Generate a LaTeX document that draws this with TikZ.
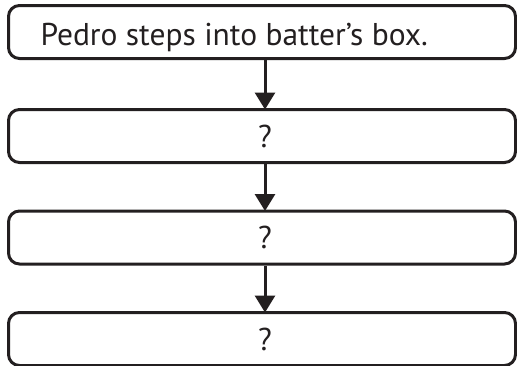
\documentclass[tikz,border=0pt]{standalone}
\usepackage{fontspec}
\setmainfont{PT Sans}
\usetikzlibrary{arrows.meta}
\definecolor{ink}{HTML}{231F20}
\begin{document}
\begin{tikzpicture}[x=1pt,y=-1pt,
  stepbox/.style={draw=ink, line width=3pt, rounded corners=11pt,
    minimum width=507pt, minimum height=53pt, inner sep=0pt},
  label/.style={text=ink, font=\fontsize{31.5}{34}\selectfont},
  flow/.style={draw=ink, line width=3pt,
    -{Triangle[length=17pt,width=20pt]}, shorten >=-1.5pt}]
  \useasboundingbox (0,0) rectangle (517,365);
  \node[stepbox] (s1) at (262,32) {};
  \node[stepbox] (s2) at (262,136) {};
  \node[stepbox] (s3) at (262,237.5) {};
  \node[stepbox] (s4) at (262,339) {};
  \node[label, anchor=base west] (t1) at (37,45) {Pedro steps into batter’s box.};
  \node[label] (q2) at (265,136) {?};
  \node[label] (q3) at (265,237.5) {?};
  \node[label] (q4) at (265,339) {?};
  \draw[flow] (s1.south -| q2) -- (s2.north -| q2);
  \draw[flow] (s2.south -| q2) -- (s3.north -| q2);
  \draw[flow] (s3.south -| q2) -- (s4.north -| q2);
\end{tikzpicture}
\end{document}
